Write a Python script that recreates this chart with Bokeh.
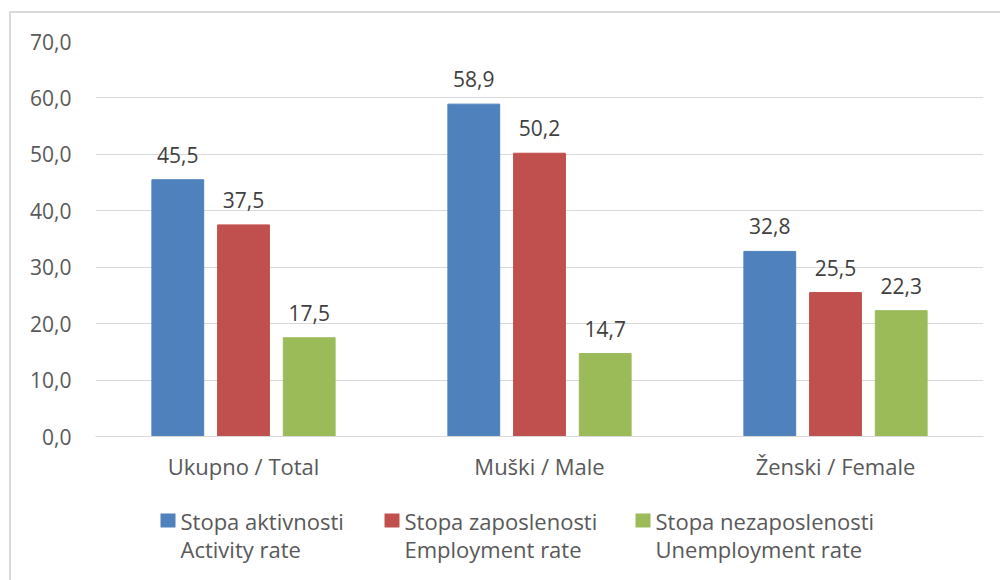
from bokeh.plotting import figure
from bokeh.layouts import column
from bokeh.models import (ColumnDataSource, FactorRange, Range1d, LabelSet,
                          FixedTicker)
from bokeh.core.properties import value
from bokeh.transform import dodge
from bokeh.embed import file_html
from bokeh.resources import INLINE

# ---- data ----
categories = ["Ukupno / Total", "Muški / Male", "Ženski / Female"]
activity = [45.5, 58.9, 32.8]
employment = [37.5, 50.2, 25.5]
unemployment = [17.5, 14.7, 22.3]
series_sr = ["Stopa aktivnosti", "Stopa zaposlenosti", "Stopa nezaposlenosti"]
series_en = ["Activity rate", "Employment rate", "Unemployment rate"]
y_ticks = [0, 10, 20, 30, 40, 50, 60, 70]
y_tick_labels = ["0,0", "10,0", "20,0", "30,0", "40,0", "50,0", "60,0", "70,0"]

colors = ["#4F81BD", "#C0504D", "#9BBB59"]
FONT = "Open Sans"
GRID = "#d9d9d9"
TXT = "#595959"


def fmt(v):
    return f"{v:.1f}".replace(".", ",")


src = ColumnDataSource(dict(
    cat=categories,
    activity=activity, employment=employment, unemployment=unemployment,
    activity_lbl=[fmt(v) for v in activity],
    employment_lbl=[fmt(v) for v in employment],
    unemployment_lbl=[fmt(v) for v in unemployment],
))

W, H1, H2 = 1000, 490, 90
FRAME_L, FRAME_R = 95, 983

# ---------------- chart ----------------
p = figure(x_range=FactorRange(*categories, range_padding=0),
           y_range=Range1d(0, 70),
           width=W, height=H1, output_backend="svg", toolbar_location=None,
           min_border_left=FRAME_L, min_border_right=W - FRAME_R, min_border_top=41,
           min_border_bottom=H1 - 436)
p.outline_line_color = None
p.background_fill_color = "white"
p.border_fill_color = None
# outer chart border: left and top edges (right/bottom run past the picture)
p.styles = {
    "background": (f"linear-gradient({GRID},{GRID}) 9px 11px / 2px 100% no-repeat, "
                   f"linear-gradient({GRID},{GRID}) 9px 11px / 100% 2px no-repeat, white"),
}

offsets = [-0.222, 0.0, 0.222]
fields = ["activity", "employment", "unemployment"]
for off, fld, col in zip(offsets, fields, colors):
    p.vbar(x=dodge("cat", off, range=p.x_range), top=fld, width=0.175,
           source=src, fill_color=col, line_color=col)
    p.add_layout(LabelSet(x=dodge("cat", off, range=p.x_range), y=fld,
                          text=fld + "_lbl", source=src, text_align="center",
                          text_baseline="bottom", y_offset=17,
                          text_font=value(FONT), text_font_size=value("21px"),
                          text_color="#404040"))

p.yaxis.ticker = FixedTicker(ticks=y_ticks)
p.yaxis.major_label_overrides = {t: l for t, l in zip(y_ticks, y_tick_labels)}
p.yaxis.axis_line_color = None
p.yaxis.major_tick_line_color = None
p.yaxis.minor_tick_line_color = None
p.yaxis.major_tick_out = 0
p.yaxis.major_tick_in = 0
p.yaxis.minor_tick_out = 0
p.yaxis.major_label_standoff = 24
p.yaxis.major_label_text_font = FONT
p.yaxis.major_label_text_font_size = "21px"
p.yaxis.major_label_text_color = TXT

p.xaxis.axis_line_color = GRID
p.xaxis.major_tick_line_color = None
p.xaxis.minor_tick_line_color = None
p.xaxis.major_tick_out = 0
p.xaxis.major_tick_in = 0
p.xaxis.minor_tick_out = 0
p.xaxis.major_label_standoff = 14
p.xaxis.major_label_text_font = FONT
p.xaxis.major_label_text_font_size = "22px"
p.xaxis.major_label_text_color = TXT

p.xgrid.grid_line_color = None
p.ygrid.grid_line_color = GRID
p.ygrid.ticker = FixedTicker(ticks=y_ticks)

# ---------------- legend strip ----------------
# the column aligns this strip's frame with the chart frame, so use
# pixel-like coordinates spanning that frame (y measured downward)
lg = figure(x_range=Range1d(FRAME_L, FRAME_R), y_range=Range1d(H1 + H2, H1),
            width=W, height=H2, output_backend="svg", toolbar_location=None,
            x_axis_location=None, y_axis_location=None,
            min_border_left=FRAME_L, min_border_right=W - FRAME_R,
            min_border_top=0, min_border_bottom=0)
lg.outline_line_color = None
lg.grid.visible = False
lg.background_fill_color = None
lg.border_fill_color = None
lg.styles = {
    "background": f"linear-gradient({GRID},{GRID}) 9px 0 / 2px 100% no-repeat, white",
}

sq_left = [160, 384, 635]
sq_size = 15
txt_gap = 5
line1_y, line2_y = 520, 548
leg_src = ColumnDataSource(dict(
    left=sq_left,
    right=[x + sq_size for x in sq_left],
    top=[line1_y - 7] * 3,
    bottom=[line1_y + 7] * 3,
    tx=[x + sq_size + txt_gap for x in sq_left],
    y1=[line1_y] * 3,
    y2=[line2_y] * 3,
    sr=series_sr, en=series_en, color=colors,
))
lg.quad(left="left", right="right", top="top", bottom="bottom",
        fill_color="color", line_color=None, source=leg_src)
lg.text(x="tx", y="y1", text="sr", text_baseline="middle", text_align="left",
        text_font=value(FONT), text_font_size=value("22px"), text_color=TXT,
        source=leg_src)
lg.text(x="tx", y="y2", text="en", text_baseline="middle", text_align="left",
        text_font=value(FONT), text_font_size=value("22px"), text_color=TXT,
        source=leg_src)

layout = column(p, lg, spacing=0)
open("out.html", "w").write(file_html(layout, INLINE))
